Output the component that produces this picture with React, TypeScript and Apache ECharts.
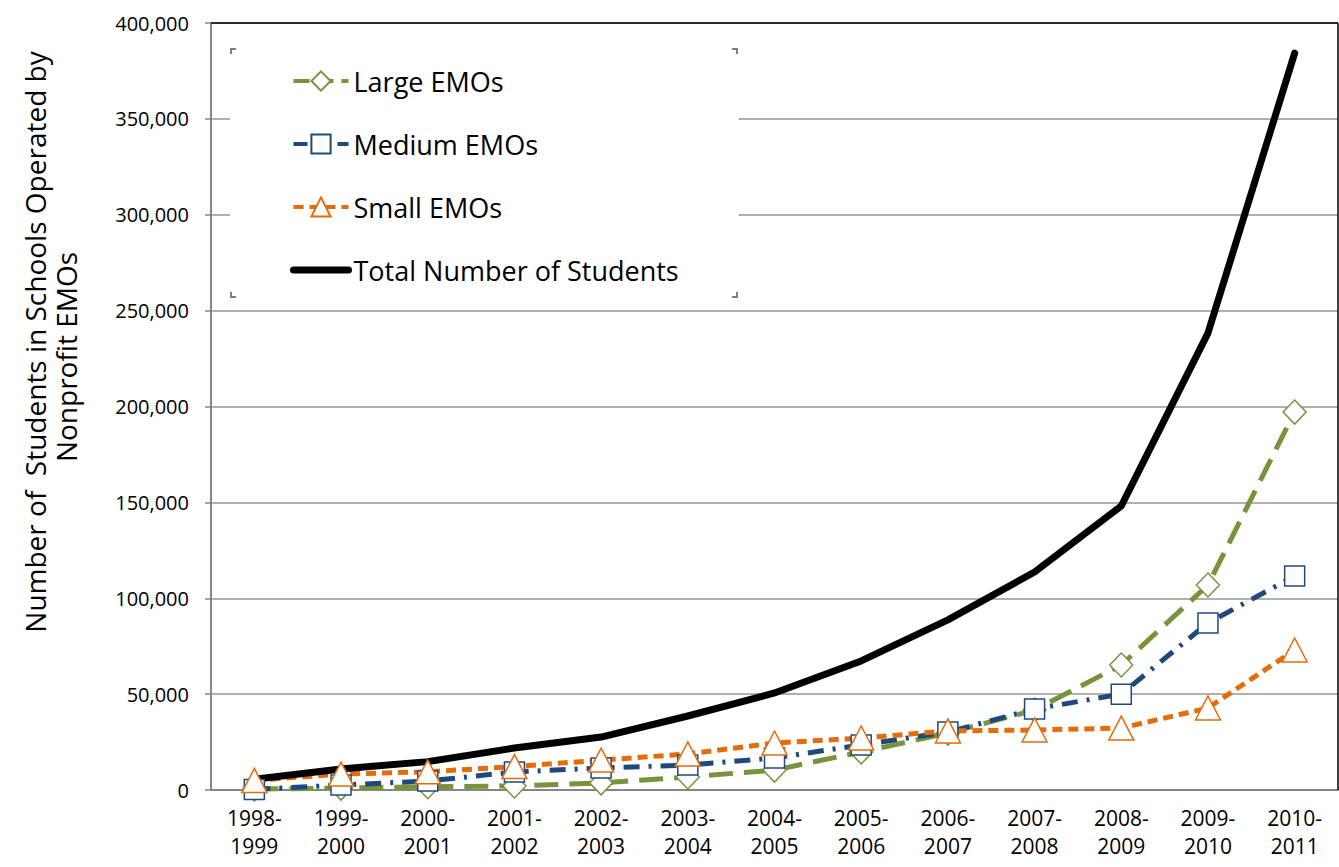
import React, { useEffect, useRef } from "react";
import * as echarts from "echarts";

const categories = [
  "1998-\n1999", "1999-\n2000", "2000-\n2001", "2001-\n2002", "2002-\n2003",
  "2003-\n2004", "2004-\n2005", "2005-\n2006", "2006-\n2007", "2007-\n2008",
  "2008-\n2009", "2009-\n2010", "2010-\n2011",
];
const largeEMOs = [500, 1000, 1700, 2100, 3700, 6800, 10400, 19800, 29700, 41700, 65200, 106900, 197100];
const mediumEMOs = [300, 2600, 4700, 9400, 11500, 13000, 16700, 23500, 30200, 42200, 50000, 87100, 111600];
const smallEMOs = [5000, 8300, 9500, 12200, 15600, 18800, 24500, 27100, 30800, 31300, 32300, 42800, 73000];
const totalStudents = [5600, 11000, 14800, 21900, 27600, 38600, 50600, 67300, 88700, 113700, 148100, 238300, 384300];
const seriesNames = ["Large EMOs", "Medium EMOs", "Small EMOs", "Total Number of Students"];
const yAxisTitle1 = "Number of  Students in Schools Operated by";
const yAxisTitle2 = "Nonprofit EMOs";

const FONT = "'Open Sans', 'DejaVu Sans', sans-serif";
const GREEN = "#77933C";
const BLUE = "#1F497D";
const ORANGE = "#E46C0A";

export default function App() {
  const ref = useRef<HTMLDivElement>(null);
  useEffect(() => {
    document.body.style.margin = "0";
    const chart = echarts.init(ref.current!, null, { renderer: "svg" });
    const cornerStyle = { stroke: "#7f7f7f", lineWidth: 2, fill: null };
    chart.setOption({
      animation: false,
      textStyle: { fontFamily: FONT },
      grid: { left: 211, right: 1, top: 23, bottom: 77, containLabel: false },
      legend: {
        orient: "vertical",
        left: 230,
        top: 48,
        backgroundColor: "#fff",
        padding: [18, 60, 14, 60],
        itemGap: 33,
        itemWidth: 55,
        itemHeight: 24,
        textStyle: { fontSize: 27, lineHeight: 30, color: "#000", fontFamily: FONT },
        data: [
          { name: seriesNames[0], lineStyle: { width: 4, type: [16, 8] } },
          { name: seriesNames[1], lineStyle: { width: 4, type: [14, 8] } },
          { name: seriesNames[2], lineStyle: { width: 4, type: [10, 6] } },
          { name: seriesNames[3], itemStyle: { opacity: 0 }, lineStyle: { width: 7 } },
        ],
      },
      xAxis: {
        type: "category",
        data: categories,
        boundaryGap: true,
        axisLine: { lineStyle: { color: "#868686", width: 2 } },
        axisTick: { show: false },
        axisLabel: {
          interval: 0,
          fontSize: 21,
          lineHeight: 28,
          margin: 14,
          color: "#000",
          fontFamily: FONT,
        },
      },
      yAxis: {
        type: "value",
        min: 0,
        max: 400000,
        interval: 50000,
        axisLine: { show: true, lineStyle: { color: "#868686", width: 2 } },
        axisTick: { show: true, length: 6, lineStyle: { color: "#868686", width: 1.5 } },
        splitLine: { lineStyle: { color: "#969696", width: 1.5 } },
        axisLabel: {
          fontSize: 20,
          margin: 22,
          color: "#000",
          fontFamily: FONT,
          formatter: (v: number) => v.toLocaleString("en-US"),
        },
      },
      series: [
        {
          name: seriesNames[0],
          type: "line",
          data: largeEMOs,
          symbol: "diamond",
          symbolSize: [23, 24],
          itemStyle: { color: "#fff", borderColor: GREEN, borderWidth: 1.5 },
          lineStyle: { color: GREEN, width: 5, type: [24, 11] },
        },
        {
          name: seriesNames[1],
          type: "line",
          data: mediumEMOs,
          symbol: "rect",
          symbolSize: 20,
          itemStyle: { color: "#fff", borderColor: BLUE, borderWidth: 1.5 },
          lineStyle: { color: BLUE, width: 5, type: [16, 9, 3, 9] },
        },
        {
          name: seriesNames[2],
          type: "line",
          data: smallEMOs,
          symbol: "triangle",
          symbolSize: [25, 24],
          itemStyle: { color: "#fff", borderColor: ORANGE, borderWidth: 1.5 },
          lineStyle: { color: ORANGE, width: 5, type: [10, 6] },
        },
        {
          name: seriesNames[3],
          type: "line",
          data: totalStudents,
          symbol: "none",
          itemStyle: { color: "#000" },
          lineStyle: { color: "#000", width: 7, cap: "round", join: "round" },
        },
      ],
      graphic: [
        {
          type: "text",
          x: 35,
          y: 342,
          rotation: Math.PI / 2,
          z: 100,
          style: {
            text: yAxisTitle1,
            fontSize: 28,
            fontFamily: FONT,
            fill: "#000",
            align: "center",
            verticalAlign: "middle",
          },
        },
        {
          type: "text",
          x: 66,
          y: 357,
          rotation: Math.PI / 2,
          z: 100,
          style: {
            text: yAxisTitle2,
            fontSize: 28,
            fontFamily: FONT,
            fill: "#000",
            align: "center",
            verticalAlign: "middle",
          },
        },
        { type: "line", z: 100, shape: { x1: 211, y1: 23, x2: 1338, y2: 23 }, style: { stroke: "#000", lineWidth: 1.5 } },
        { type: "line", z: 100, shape: { x1: 1338, y1: 23, x2: 1338, y2: 790 }, style: { stroke: "#000", lineWidth: 1.5 } },
        { type: "polyline", z: 100, shape: { points: [[231, 54], [231, 49], [236, 49]] }, style: cornerStyle },
        { type: "polyline", z: 100, shape: { points: [[732, 49], [737, 49], [737, 54]] }, style: cornerStyle },
        { type: "polyline", z: 100, shape: { points: [[231, 292], [231, 297], [236, 297]] }, style: cornerStyle },
        { type: "polyline", z: 100, shape: { points: [[732, 297], [737, 297], [737, 292]] }, style: cornerStyle },
      ],
    });
    return () => chart.dispose();
  }, []);
  return <div ref={ref} style={{ width: 1339, height: 867 }} />;
}
